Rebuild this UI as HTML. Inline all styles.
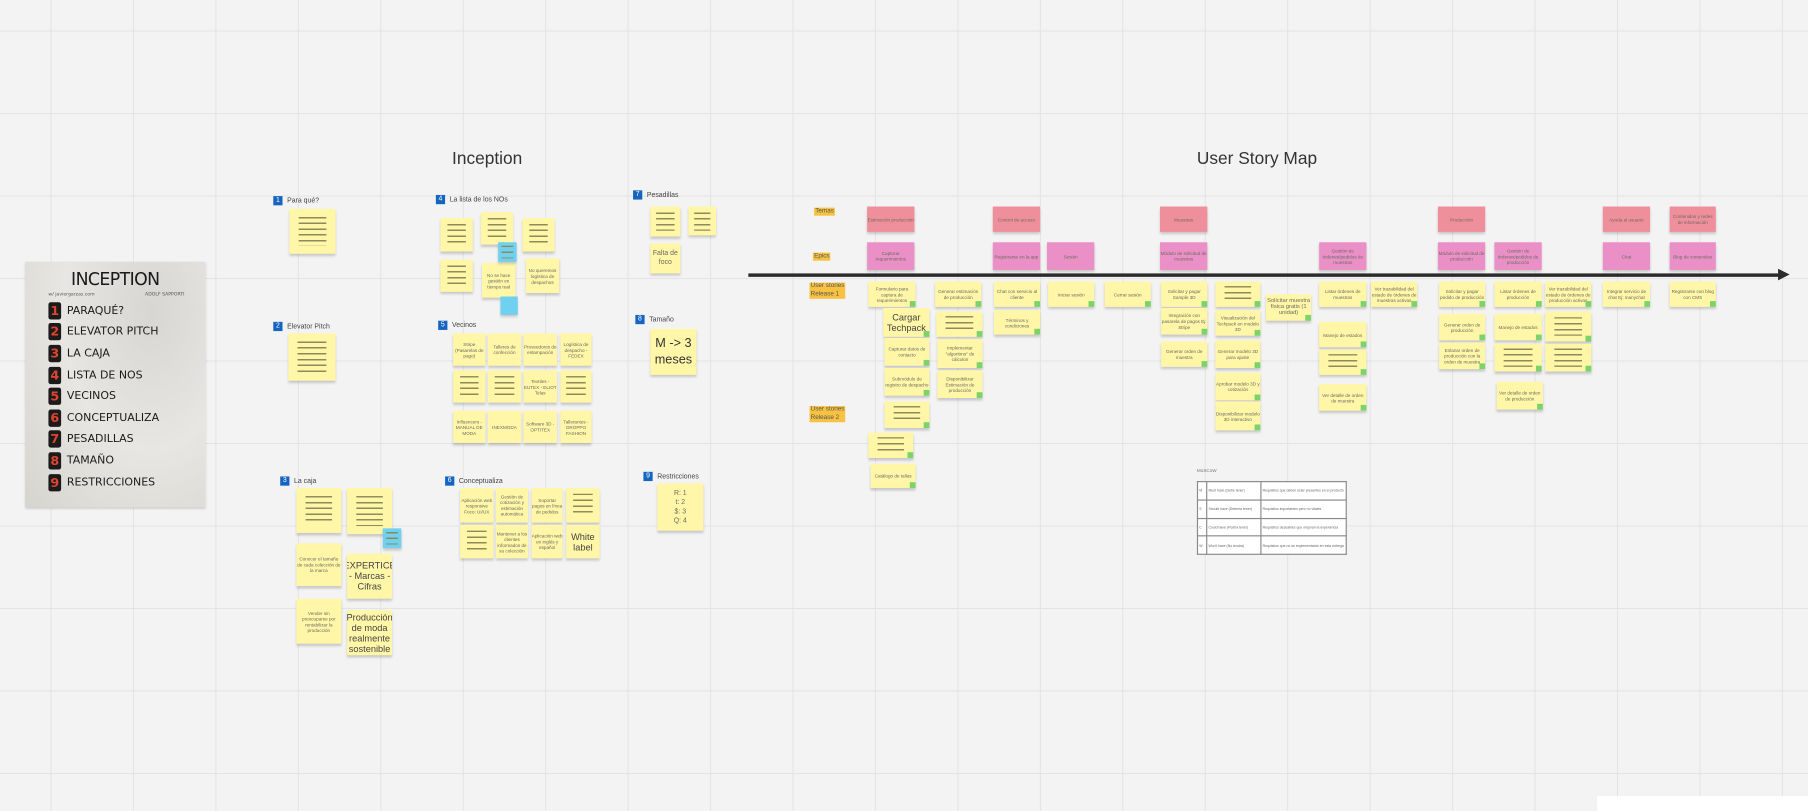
<!DOCTYPE html>
<html><head><meta charset="utf-8"><style>
html,body{margin:0;padding:0;width:1808px;height:811px;overflow:hidden;background:#f3f3f3}
#w{position:absolute;left:0;top:0;width:1568px;height:703px;transform:scale(1.1531,1.1536);transform-origin:0 0;
background-color:#f3f3f3;
background-image:linear-gradient(to right,#e3e3e3 1px,transparent 1px),linear-gradient(to bottom,#e3e3e3 1px,transparent 1px);
background-size:71.5px 71.5px;background-position:43.8px 26.5px;font-family:"Liberation Sans",sans-serif}
.s,.p,.e,.b{position:absolute;background:#fff6a8;box-shadow:0 2px 2px rgba(0,0,0,.18);display:flex;align-items:center;justify-content:center;text-align:center;font-size:4px;line-height:5px;color:#6a6a60;overflow:hidden}
.p{background:#f08f9c}.e{background:#ea90c6}.b{background:#6fd0ef}
.ln::before{content:"";position:absolute;left:20%;right:20%;top:18%;bottom:18%;background:repeating-linear-gradient(#8c8a5a 0 1.3px,transparent 1.3px 5px)}
.g{position:absolute;width:7px;height:7px;background:#7bd36a;right:-2px;bottom:-2px}
.lb{position:absolute;font-size:6px;color:#444;white-space:nowrap}
.lb i{display:inline-block;width:8px;height:8px;background:#1565c0;color:#fff;font-style:normal;font-size:6px;line-height:8px;text-align:center;margin-right:4px;vertical-align:middle}
.t{position:absolute;font-size:15px;color:#333}
.o{position:absolute;background:#f7c242;font-size:5.5px;color:#555;line-height:7px;padding:0 1px}
.big{font-size:8px;line-height:9px;color:#444}
.ph div{height:18.6px;display:flex;align-items:center}
.ph b{display:inline-block;width:11px;height:15px;background:#1b1b1b;color:#e0442f;font-size:11px;line-height:15px;text-align:center;margin-right:5px;border-radius:2px}
</style></head><body><div id="w">
<div class="t" style="left:392px;top:129px">Inception</div>
<div class="t" style="left:1038px;top:129px">User Story Map</div>

<div style="position:absolute;left:22px;top:227px;width:156px;height:213px;background:radial-gradient(ellipse at 70% 20%,#d8d6d2,#e8e6e2 50%,#d6d4cf);box-shadow:0 1px 2px rgba(0,0,0,.2);font-family:'DejaVu Sans',sans-serif;color:#1a1a1a">
<div style="text-align:center;font-size:15px;margin-top:6px;letter-spacing:-.5px">INCEPTION</div>
<div style="font-size:4px;color:#555;margin:1px 18px 0 20px;display:flex;justify-content:space-between"><span>w/ javiergarzas.com</span><span>ADOLF SAPPORTI</span></div>
<div class="ph" style="font-size:9.5px;margin:3px 0 0 20px">
<div><b>1</b>PARAQUÉ?</div><div><b>2</b>ELEVATOR PITCH</div><div><b>3</b>LA CAJA</div><div><b>4</b>LISTA DE NOS</div><div><b>5</b>VECINOS</div><div><b>6</b>CONCEPTUALIZA</div><div><b>7</b>PESADILLAS</div><div><b>8</b>TAMAÑO</div><div><b>9</b>RESTRICCIONES</div></div></div>

<div class="lb" style="left:237px;top:170px"><i>1</i>Para qué?</div>
<div class="s ln" style="left:251px;top:181px;width:40px;height:39px"></div>
<div class="lb" style="left:237px;top:279px"><i>2</i>Elevator Pitch</div>
<div class="s ln" style="left:250px;top:289px;width:41px;height:41px"></div>
<div class="lb" style="left:243px;top:413px"><i>3</i>La caja</div>
<div class="s ln" style="left:257px;top:423px;width:39px;height:39px"></div>
<div class="s ln" style="left:301px;top:423px;width:39px;height:40px"></div>
<div class="b ln" style="left:332px;top:458px;width:16px;height:17px"></div>
<div class="s" style="left:257px;top:471px;width:39px;height:37px">Conocer el tamaño de cada colección de la marca</div>
<div class="s big" style="left:301px;top:480px;width:39px;height:39px">EXPERTICE - Marcas - Cifras</div>
<div class="s" style="left:257px;top:519px;width:39px;height:39px">Vender sin preocuparse por rentabilizar la producción</div>
<div class="s big" style="left:301px;top:529px;width:39px;height:39px">Producción de moda realmente sostenible</div>

<div class="lb" style="left:378px;top:169px"><i>4</i>La lista de los NOs</div>
<div class="s ln" style="left:382px;top:189px;width:28px;height:29px"></div>
<div class="s ln" style="left:417px;top:184px;width:28px;height:28px"></div>
<div class="s ln" style="left:453px;top:189px;width:28px;height:29px"></div>
<div class="s ln" style="left:382px;top:225px;width:28px;height:28px"></div>
<div class="s" style="left:418px;top:228px;width:29px;height:30px">No se hace gestión en tiempo real</div>
<div class="s" style="left:456px;top:224px;width:29px;height:30px">No queremos logística de despachos</div>
<div class="b ln" style="left:432px;top:210px;width:16px;height:17px"></div>
<div class="b" style="left:434px;top:257px;width:15px;height:16px"></div>

<div class="lb" style="left:380px;top:278px"><i>5</i>Vecinos</div>
<div class="s" style="left:393px;top:289px;width:28px;height:28px">Stripe (Pasarelas de pago)</div>
<div class="s" style="left:423px;top:289px;width:29px;height:28px">Talleres de confección</div>
<div class="s" style="left:454px;top:289px;width:29px;height:28px">Proveedores de estampación</div>
<div class="s" style="left:486px;top:289px;width:27px;height:28px">Logística de despacho - FEDEX</div>
<div class="s ln" style="left:393px;top:321px;width:28px;height:28px"></div>
<div class="s ln" style="left:423px;top:321px;width:29px;height:28px"></div>
<div class="s" style="left:454px;top:321px;width:29px;height:28px">Textiles - EUTEX - ELIOT Telas</div>
<div class="s ln" style="left:486px;top:321px;width:27px;height:28px"></div>
<div class="s" style="left:393px;top:356px;width:28px;height:28px">Influencers - MANUAL DE MODA</div>
<div class="s" style="left:423px;top:356px;width:29px;height:28px">INEXMODA</div>
<div class="s" style="left:454px;top:356px;width:29px;height:28px">Software 3D - OPTITEX</div>
<div class="s" style="left:486px;top:356px;width:27px;height:28px">Tallerantes - GROPPO FASHION</div>

<div class="lb" style="left:386px;top:413px"><i>6</i>Conceptualiza</div>
<div class="s" style="left:399px;top:423px;width:29px;height:30px">Aplicación web responsive Foco: UI/UX</div>
<div class="s" style="left:430px;top:423px;width:28px;height:30px">Gestión de cotización y estimación automática</div>
<div class="s" style="left:461px;top:423px;width:27px;height:30px">Soportar pagos en línea de pedidos</div>
<div class="s ln" style="left:491px;top:423px;width:29px;height:30px"></div>
<div class="s ln" style="left:399px;top:455px;width:29px;height:29px"></div>
<div class="s" style="left:430px;top:455px;width:28px;height:29px">Mantener a los clientes informados de su colección</div>
<div class="s" style="left:461px;top:455px;width:27px;height:29px">Aplicación web en inglés y español</div>
<div class="s big" style="left:491px;top:455px;width:29px;height:29px">White label</div>

<div class="lb" style="left:549px;top:165px"><i>7</i>Pesadillas</div>
<div class="s ln" style="left:564px;top:179px;width:26px;height:26px"></div>
<div class="s ln" style="left:597px;top:179px;width:24px;height:25px"></div>
<div class="s" style="left:564px;top:211px;width:26px;height:26px;font-size:6px;line-height:8px">Falta de foco</div>
<div class="lb" style="left:551px;top:273px"><i>8</i>Tamaño</div>
<div class="s" style="left:564px;top:285px;width:40px;height:40px;font-size:11px;line-height:14px;color:#333">M -&gt; 3 meses</div>
<div class="lb" style="left:558px;top:409px"><i>9</i>Restricciones</div>
<div class="s" style="left:570px;top:419px;width:40px;height:41px;font-size:6px;line-height:8px">R: 1<br>t: 2<br>$: 3<br>Q: 4</div>

<div class="o" style="left:706px;top:180px">Temas</div>
<div class="o" style="left:705px;top:219px">Epics</div>
<div class="o" style="left:702px;top:245px">User stories<br>Release 1</div>
<div class="o" style="left:702px;top:352px">User stories<br>Release 2</div>

<div style="position:absolute;left:649px;top:237px;width:897px;height:3px;background:#2b2b2b"></div>
<div style="position:absolute;left:1542px;top:233px;width:0;height:0;border-left:10px solid #2b2b2b;border-top:5.5px solid transparent;border-bottom:5.5px solid transparent"></div>

<div class="p" style="left:752px;top:179px;width:41px;height:22px">Estimación producción</div>
<div class="p" style="left:861px;top:179px;width:41px;height:22px">Control de acceso</div>
<div class="p" style="left:1006px;top:179px;width:41px;height:22px">Muestras</div>
<div class="p" style="left:1247px;top:179px;width:41px;height:22px">Producción</div>
<div class="p" style="left:1390px;top:179px;width:41px;height:22px">Ayuda al usuario</div>
<div class="p" style="left:1448px;top:179px;width:40px;height:22px">Contenidos y redes de información</div>

<div class="e" style="left:752px;top:210px;width:41px;height:24px">Capturar requerimientos</div>
<div class="e" style="left:861px;top:210px;width:41px;height:24px">Registrarse en la app</div>
<div class="e" style="left:908px;top:210px;width:41px;height:24px">Sesión</div>
<div class="e" style="left:1006px;top:210px;width:41px;height:24px">Módulo de solicitud de muestras</div>
<div class="e" style="left:1144px;top:210px;width:41px;height:24px">Gestión de órdenes/pedidos de muestras</div>
<div class="e" style="left:1247px;top:210px;width:41px;height:24px">Módulo de solicitud de producción</div>
<div class="e" style="left:1296px;top:210px;width:41px;height:24px">Gestión de órdenes/pedidos de producción</div>
<div class="e" style="left:1390px;top:210px;width:41px;height:24px">Chat</div>
<div class="e" style="left:1448px;top:210px;width:40px;height:24px">Blog de contenidos</div>

<div class="s" style="left:753px;top:244px;width:41px;height:22px">Formulario para captura de requerimientos<span class="g"></span></div>
<div class="s" style="left:811px;top:244px;width:40px;height:22px">Generar estimación de producción<span class="g"></span></div>
<div class="s" style="left:862px;top:244px;width:40px;height:22px">Chat con servicio al cliente<span class="g"></span></div>
<div class="s" style="left:909px;top:244px;width:40px;height:22px">Iniciar sesión<span class="g"></span></div>
<div class="s" style="left:958px;top:244px;width:40px;height:22px">Cerrar sesión<span class="g"></span></div>
<div class="s" style="left:1007px;top:244px;width:40px;height:22px">Solicitar y pagar Sample 3D<span class="g"></span></div>
<div class="s ln" style="left:1054px;top:244px;width:39px;height:22px"><span class="g"></span></div>
<div class="s" style="left:1098px;top:255px;width:39px;height:23px;font-size:5px">Solicitar muestra física gratis (1 unidad)<span class="g"></span></div>
<div class="s" style="left:1144px;top:244px;width:41px;height:22px">Listar órdenes de muestras<span class="g"></span></div>
<div class="s" style="left:1189px;top:244px;width:40px;height:22px">Ver trazabilidad del estado de órdenes de muestras activas<span class="g"></span></div>
<div class="s" style="left:1248px;top:244px;width:40px;height:22px">Solicitar y pagar pedido de producción<span class="g"></span></div>
<div class="s" style="left:1296px;top:244px;width:41px;height:22px">Listar órdenes de producción<span class="g"></span></div>
<div class="s" style="left:1340px;top:244px;width:40px;height:22px">Ver trazabilidad del estado de órdenes de producción activas<span class="g"></span></div>
<div class="s" style="left:1390px;top:244px;width:41px;height:22px">Integrar servicio de chat Ej: manychat<span class="g"></span></div>
<div class="s" style="left:1448px;top:244px;width:40px;height:22px">Registrarse con blog con CMS<span class="g"></span></div>

<div class="s big" style="left:766px;top:267px;width:40px;height:25px">Cargar Techpack<span class="g"></span></div>
<div class="s" style="left:767px;top:293px;width:39px;height:24px">Capturar datos de contacto<span class="g"></span></div>
<div class="s" style="left:767px;top:319px;width:39px;height:24px">Submódulo de registro de despacho<span class="g"></span></div>
<div class="s ln" style="left:812px;top:270px;width:40px;height:22px"><span class="g"></span></div>
<div class="s" style="left:813px;top:294px;width:39px;height:25px">Implementar "algoritmo" de cálculos<span class="g"></span></div>
<div class="s" style="left:813px;top:321px;width:39px;height:24px">Disponibilizar Estimación de producción<span class="g"></span></div>
<div class="s" style="left:862px;top:269px;width:40px;height:21px">Términos y condiciones<span class="g"></span></div>
<div class="s" style="left:1007px;top:267px;width:40px;height:23px">Integración con pasarela de pagos Ej: Stripe<span class="g"></span></div>
<div class="s" style="left:1007px;top:296px;width:40px;height:22px">Generar orden de muestra<span class="g"></span></div>
<div class="s" style="left:1054px;top:269px;width:39px;height:22px">Visualización del Techpack en modelo 3D<span class="g"></span></div>
<div class="s" style="left:1054px;top:295px;width:39px;height:24px">Generar modelo 3D para ajuste<span class="g"></span></div>
<div class="s" style="left:1054px;top:323px;width:39px;height:24px">Aprobar modelo 3D y cotización<span class="g"></span></div>
<div class="s" style="left:1054px;top:348px;width:39px;height:25px">Disponibilizar modelo 3D interactivo<span class="g"></span></div>
<div class="s" style="left:1144px;top:279px;width:41px;height:22px">Manejo de estados<span class="g"></span></div>
<div class="s ln" style="left:1144px;top:303px;width:41px;height:22px"><span class="g"></span></div>
<div class="s" style="left:1144px;top:333px;width:41px;height:23px">Ver detalle de orden de muestra<span class="g"></span></div>
<div class="s" style="left:1248px;top:272px;width:40px;height:23px">Generar orden de producción<span class="g"></span></div>
<div class="s" style="left:1248px;top:297px;width:40px;height:23px">Enlazar orden de producción con la orden de muestra<span class="g"></span></div>
<div class="s" style="left:1296px;top:272px;width:41px;height:23px">Manejo de estados<span class="g"></span></div>
<div class="s ln" style="left:1296px;top:298px;width:41px;height:24px"><span class="g"></span></div>
<div class="s" style="left:1298px;top:331px;width:40px;height:24px">Ver detalle de orden de producción<span class="g"></span></div>
<div class="s ln" style="left:1340px;top:270px;width:40px;height:26px"><span class="g"></span></div>
<div class="s ln" style="left:1340px;top:298px;width:40px;height:24px"><span class="g"></span></div>

<div class="s ln" style="left:767px;top:348px;width:39px;height:23px"><span class="g"></span></div>
<div class="s ln" style="left:753px;top:375px;width:39px;height:22px"><span class="g"></span></div>
<div class="s" style="left:755px;top:402px;width:39px;height:21px">Catálogo de tallas<span class="g"></span></div>

<div class="lb" style="left:1038px;top:405px;font-size:4px;color:#777">MoSCoW</div>
<table style="position:absolute;left:1038px;top:417px;width:130px;height:64px;border-collapse:collapse;font-size:3px;color:#666;background:#fff">
<tr><td style="border:.5px solid #888;width:5px">M</td><td style="border:.5px solid #888;width:44px">Must have (Debe tener)</td><td style="border:.5px solid #888">Requisitos que deben estar presentes en el producto</td></tr>
<tr><td style="border:.5px solid #888">S</td><td style="border:.5px solid #888">Should have (Debería tener)</td><td style="border:.5px solid #888">Requisitos importantes pero no vitales</td></tr>
<tr><td style="border:.5px solid #888">C</td><td style="border:.5px solid #888">Could have (Podría tener)</td><td style="border:.5px solid #888">Requisitos deseables que mejoran la experiencia</td></tr>
<tr><td style="border:.5px solid #888">W</td><td style="border:.5px solid #888">Won't have (No tendrá)</td><td style="border:.5px solid #888">Requisitos que no se implementarán en esta entrega</td></tr>
</table>
<div style="position:absolute;left:1385px;top:690px;width:183px;height:13px;background:#fff"></div>
</div></body></html>
